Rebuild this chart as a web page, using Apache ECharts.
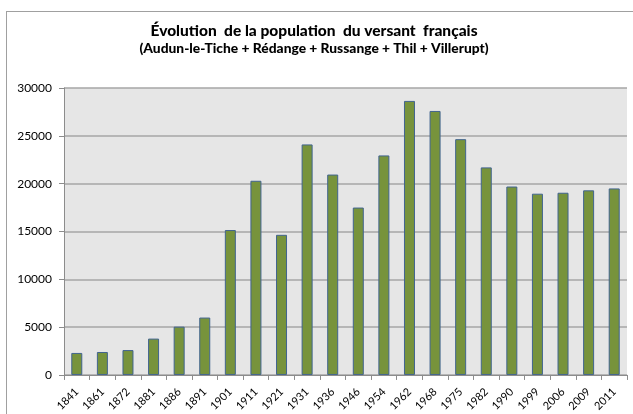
<!DOCTYPE html>
<html>
<head>
<meta charset="utf-8">
<script src="https://cdn.jsdelivr.net/npm/echarts@6/dist/echarts.min.js"></script>
<style>
  html, body { margin: 0; padding: 0; background: #fff; }
  #frame { position: absolute; left: 6px; top: 11px; width: 640px; height: 420px; border-left: 1px solid #a0a0a0; border-top: 1px solid #a0a0a0; }
  #chart { position: absolute; left: 0; top: 0; width: 633px; height: 414px; }
</style>
</head>
<body>
<div id="frame"></div>
<div id="chart"></div>
<script>
// Census years (French side: Audun-le-Tiche, Rédange, Russange, Thil, Villerupt)
const years = ['1841','1861','1872','1881','1886','1891','1901','1911','1921','1931','1936',
               '1946','1954','1962','1968','1975','1982','1990','1999','2006','2009','2011'];
const population = [2300, 2400, 2600, 3800, 5050, 6000, 15150, 20300, 14650, 24100, 20950,
                    17500, 22950, 28650, 27600, 24650, 21700, 19700, 18950, 19050, 19300, 19500];
const yTicks = [0, 5000, 10000, 15000, 20000, 25000, 30000];

const titleText = 'Évolution  de la population  du versant  français';
const subtitleText = '(Audun-le-Tiche + Rédange + Russange + Thil + Villerupt)';

const chart = echarts.init(document.getElementById('chart'), null, { renderer: 'canvas' });
chart.setOption({
  backgroundColor: 'transparent',
  animation: false,
  title: {
    text: titleText,
    subtext: subtitleText,
    left: 309,
    textAlign: 'center',
    top: 18,
    itemGap: 3,
    textStyle: { fontFamily: 'Lato', fontWeight: 900, fontSize: 15.5, color: '#000' },
    subtextStyle: { fontFamily: 'Lato', fontWeight: 900, fontSize: 13.8, color: '#000' }
  },
  grid: { left: 64, right: 6, top: 88, bottom: 39, show: true, backgroundColor: '#e6e6e6', borderWidth: 0 },
  xAxis: {
    type: 'category',
    data: years,
    axisLine: { lineStyle: { color: '#8c8c8c', width: 1 } },
    axisTick: { show: true, length: 5, alignWithLabel: false, lineStyle: { color: '#8c8c8c' } },
    axisLabel: { rotate: 45, fontFamily: 'Lato', fontSize: 11, color: '#000', margin: 15, interval: 0 }
  },
  yAxis: {
    type: 'value',
    min: yTicks[0],
    max: yTicks[yTicks.length - 1],
    interval: yTicks[1] - yTicks[0],
    axisLine: { show: true, lineStyle: { color: '#8c8c8c', width: 1 } },
    axisTick: { show: true, length: 5, inside: false, lineStyle: { color: '#8c8c8c' } },
    splitLine: { lineStyle: { color: '#a6a6a6', width: 1.5 } },
    axisLabel: { fontFamily: 'Lato', fontSize: 12, color: '#000', margin: 12, formatter: v => String(v) }
  },
  series: [{
    type: 'bar',
    data: population,
    barWidth: 11,
    itemStyle: { color: '#77933c', borderColor: '#41648f', borderWidth: 1 }
  }]
});
</script>
</body>
</html>
